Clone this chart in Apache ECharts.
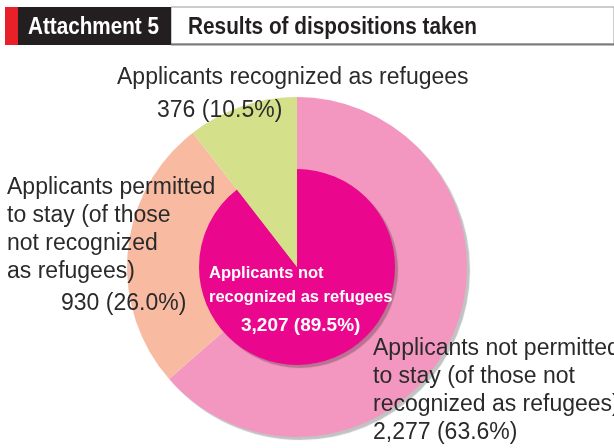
<!DOCTYPE html>
<html>
<head>
<meta charset="utf-8">
<script src="https://cdn.jsdelivr.net/npm/echarts@6/dist/echarts.min.js"></script>
<style>
html,body{margin:0;padding:0;background:#fff;}
#chart{width:614px;height:448px;}
</style>
</head>
<body>
<div id="chart"></div>
<script>
// ---- data ----
const headerTag = 'Attachment 5';
const headerTitle = 'Results of dispositions taken';
const outerNames = [
  'Applicants not permitted to stay (of those not recognized as refugees)',
  'Applicants permitted to stay (of those not recognized as refugees)',
  'Applicants recognized as refugees'
];
const outerValues = [2277, 930, 376];
const outerLabelLines = [
  ['Applicants not permitted', 'to stay (of those not', 'recognized as refugees)'],
  ['Applicants permitted', 'to stay (of those', 'not recognized', 'as refugees)'],
  ['Applicants recognized as refugees']
];
const innerNames = ['Applicants not recognized as refugees', 'Applicants recognized as refugees'];
const innerValues = [3207, 376];
const innerLabelLines = [['Applicants not', 'recognized as refugees'], []];

// ---- helpers ----
const total = outerValues.reduce((a, b) => a + b, 0);
const fmtNum = v => v.toLocaleString('en-US');
const fmtPct = v => (v / total * 100).toFixed(1) + '%';
const valueText = v => fmtNum(v) + ' (' + fmtPct(v) + ')';

const outerColors = ['#F397C0', '#F8BBA2', '#D4E08A'];
const innerColors = ['#EA068D', '#D4E08A'];
const shadow = { shadowColor: 'rgba(0,0,0,0.24)', shadowOffsetX: 3, shadowOffsetY: 3, shadowBlur: 1 };

const outerLabelPos = [
  { x: 373, y: 335 },
  { x: 7, y: 174 },
  { x: 117, y: 61 }
];
const outerValuePad = [0, 54, 40];
const outerValueLH = [28, 36, 33];
const outerLineLH = [28, 28, 33];
const innerLabelPos = [{ x: 209, y: 261 }];

const labelFont = 'Liberation Sans, Arial, Helvetica, sans-serif';

function outerLabel(i) {
  return {
    show: true,
    position: 'outside',
    formatter: () => outerLabelLines[i].map(l => '{t|' + l + '}').join('\n') + '\n{v|' + valueText(outerValues[i]) + '}',
    rich: {
      t: { fontSize: 23, fontFamily: labelFont, color: '#2a2a2a', lineHeight: outerLineLH[i], align: 'left' },
      v: { fontSize: 23, fontFamily: labelFont, color: '#2a2a2a', lineHeight: outerValueLH[i], align: 'left', padding: [0, 0, 0, outerValuePad[i]] }
    }
  };
}

const outerData = outerValues.map((v, i) => ({
  name: outerNames[i],
  value: v,
  itemStyle: Object.assign({ color: outerColors[i] }, i === 0 ? shadow : {}),
  label: outerLabel(i)
}));

const innerData = innerValues.map((v, i) => ({
  name: innerNames[i],
  value: v,
  itemStyle: Object.assign({ color: innerColors[i] }, i === 0 ? shadow : {}),
  label: i === 0 ? {
    show: true,
    position: 'outside',
    formatter: () => innerLabelLines[i].map(l => '{t|' + l + '}').join('\n') + '\n{v|' + valueText(v) + '}',
    rich: {
      t: { fontSize: 16.5, fontWeight: 'bold', fontFamily: labelFont, color: '#fff', lineHeight: 24, align: 'left' },
      v: { fontSize: 19, fontWeight: 'bold', fontFamily: labelFont, color: '#fff', lineHeight: 34, align: 'center' }
    }
  } : { show: false }
}));

const chart = echarts.init(document.getElementById('chart'), null, { renderer: 'canvas' });
chart.setOption({
  animation: false,
  backgroundColor: '#fff',
  graphic: [
    { type: 'rect', shape: { x: 171, y: 7, width: 443, height: 37 }, style: { fill: '#fff', stroke: '#9a9a9a', lineWidth: 1 } },
    { type: 'rect', shape: { x: 171, y: 43.5, width: 443, height: 2 }, style: { fill: '#7a7a7a' } },
    { type: 'rect', shape: { x: 5, y: 7, width: 13, height: 38 }, style: { fill: '#E8202A' } },
    { type: 'rect', shape: { x: 18, y: 7, width: 153, height: 38 }, style: { fill: '#231F20' } },
    { type: 'text', x: 28, y: 27.5, scaleX: 0.88, style: { text: headerTag, fill: '#fff', fontSize: 23.5, fontWeight: 'bold', fontFamily: labelFont, verticalAlign: 'middle', align: 'left' } },
    { type: 'text', x: 188, y: 27.5, scaleX: 0.885, style: { text: headerTitle, fill: '#231F20', fontSize: 23.5, fontWeight: 'bold', fontFamily: labelFont, verticalAlign: 'middle', align: 'left' } }
  ],
  series: [
    {
      type: 'pie',
      center: [297, 267],
      radius: [0, 170],
      startAngle: 90,
      clockwise: true,
      avoidLabelOverlap: false,
      silent: true,
      labelLine: { show: false },
      data: outerData,
      labelLayout: p => Object.assign({ align: 'left', verticalAlign: 'top' }, outerLabelPos[p.dataIndex])
    },
    {
      type: 'pie',
      center: [297, 267],
      radius: [0, 98],
      startAngle: 90,
      clockwise: true,
      avoidLabelOverlap: false,
      silent: true,
      labelLine: { show: false },
      data: innerData,
      labelLayout: p => p.dataIndex === 0 ? Object.assign({ align: 'left', verticalAlign: 'top' }, innerLabelPos[0]) : {}
    }
  ]
});
</script>
</body>
</html>
